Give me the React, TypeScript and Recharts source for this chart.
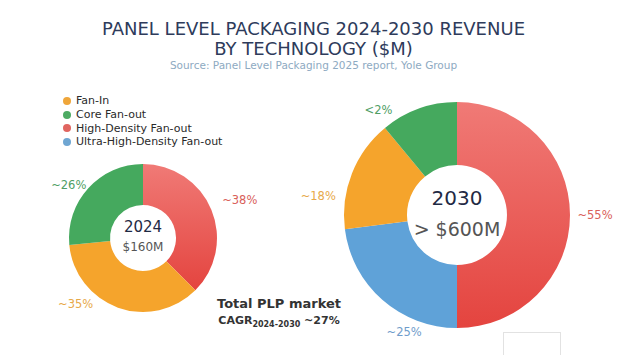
import { PieChart, Pie, Cell } from "recharts";

// categories in the order they are drawn clockwise from 12 o'clock
const categories = ["Fan-In", "Core Fan-out", "High-Density Fan-out", "Ultra-High-Density Fan-out"];
const colors: Record<string, string> = {
  "Fan-In": "#f5a42c",
  "Core Fan-out": "#45a95e",
  "High-Density Fan-out": "url(#redGrad)",
  "Ultra-High-Density Fan-out": "#5fa2d8",
};
const legendDots = ["#efa63a", "#4dab63", "#e06560", "#6fa6d2"];
const labelColors: Record<string, string> = {
  "Fan-In": "#e7a94a",
  "Core Fan-out": "#4f9e65",
  "High-Density Fan-out": "#d9605a",
  "Ultra-High-Density Fan-out": "#6f9ccb",
};

const slices2024 = ["High-Density Fan-out", "Fan-In", "Core Fan-out"];
const values2024 = [37.5, 36, 26.5];
const labels2024 = ["~38%", "~35%", "~26%"];
const labelShift2024 = [1, 26, -7];
const labelGap2024 = [30, 20, 17];

const slices2030 = ["High-Density Fan-out", "Ultra-High-Density Fan-out", "Fan-In", "Core Fan-out"];
const values2030 = [50, 23, 16, 11];
const labels2030 = ["~55%", "~25%", "~18%", "<2%"];
const labelShift2030 = [0, -17, -14, -17];
const labelGap2030 = [25, 15, 27, 18];

const L = { cx: 143, cy: 238, inner: 33, outer: 74 };
const R = { cx: 457, cy: 215, inner: 50, outer: 113 };

const FONT = "'DejaVu Sans', sans-serif";

const data2024 = slices2024.map((name, i) => ({ name, value: values2024[i] }));
const data2030 = slices2030.map((name, i) => ({ name, value: values2030[i] }));

function makeLabel(texts: string[], names: string[], shift: number[], gap: number[], size: number) {
  return (p: any) => {
    const i = p.index;
    const theta = ((90 - p.midAngle + shift[i]) * Math.PI) / 180;
    const r = p.outerRadius + gap[i];
    const x = p.cx + r * Math.sin(theta);
    const y = p.cy - r * Math.cos(theta);
    return (
      <text
        x={x}
        y={y}
        textAnchor="middle"
        dominantBaseline="central"
        fontSize={size}
        fontFamily={FONT}
        fill={labelColors[names[i]]}
      >
        {texts[i]}
      </text>
    );
  };
}

export default function App() {
  return (
    <div
      style={{
        position: "absolute",
        left: 0,
        top: 0,
        width: 627,
        height: 355,
        background: "#fff",
        fontFamily: FONT,
        overflow: "hidden",
      }}
    >
      <div style={{ position: "absolute", top: 19, width: 627, textAlign: "center", color: "#2e3b5b", fontSize: 18, lineHeight: "20px" }}>
        PANEL LEVEL PACKAGING 2024-2030 REVENUE
        <br />
        BY TECHNOLOGY ($M)
      </div>
      <div style={{ position: "absolute", top: 59, width: 627, textAlign: "center", color: "#8eaac2", fontSize: 10.5 }}>
        Source: Panel Level Packaging 2025 report, Yole Group
      </div>

      <PieChart
        width={627}
        height={355}
        margin={{ top: 0, right: 0, bottom: 0, left: 0 }}
        style={{ position: "absolute", left: 0, top: 0 }}
      >
        <defs>
          <linearGradient id="redGrad" x1="0" y1="0" x2="0" y2="1">
            <stop offset="0%" stopColor="#f07a76" />
            <stop offset="100%" stopColor="#e4443f" />
          </linearGradient>
        </defs>
        <Pie
          data={data2024}
          dataKey="value"
          cx={L.cx}
          cy={L.cy}
          innerRadius={L.inner}
          outerRadius={L.outer}
          startAngle={90}
          endAngle={-270}
          stroke="none"
          labelLine={false}
          label={makeLabel(labels2024, slices2024, labelShift2024, labelGap2024, 11.5)}
          isAnimationActive={false}
        >
          {data2024.map((d) => (
            <Cell key={d.name} fill={colors[d.name]} />
          ))}
        </Pie>
        <Pie
          data={data2030}
          dataKey="value"
          cx={R.cx}
          cy={R.cy}
          innerRadius={R.inner}
          outerRadius={R.outer}
          startAngle={90}
          endAngle={-270}
          stroke="none"
          labelLine={false}
          label={makeLabel(labels2030, slices2030, labelShift2030, labelGap2030, 11.5)}
          isAnimationActive={false}
        >
          {data2030.map((d) => (
            <Cell key={d.name} fill={colors[d.name]} />
          ))}
        </Pie>
      </PieChart>

      {/* legend */}
      <div style={{ position: "absolute", left: 63, top: 94 }}>
        {categories.map((c, i) => (
          <div key={c} style={{ display: "flex", alignItems: "center", height: 13.7, fontSize: 11, color: "#2a2a2a" }}>
            <span style={{ width: 8, height: 8, borderRadius: 4, background: legendDots[i], marginRight: 5, display: "inline-block" }} />
            {c}
          </div>
        ))}
      </div>

      {/* centre labels */}
      <div style={{ position: "absolute", left: L.cx - 40, top: L.cy - 21, width: 80, textAlign: "center" }}>
        <div style={{ fontSize: 15, color: "#1f2a44", lineHeight: "20px" }}>2024</div>
        <div style={{ fontSize: 12, color: "#555", lineHeight: "20px" }}>$160M</div>
      </div>
      <div style={{ position: "absolute", left: R.cx - 60, top: R.cy - 32, width: 120, textAlign: "center" }}>
        <div style={{ fontSize: 20, color: "#1f2a44", lineHeight: "31px" }}>2030</div>
        <div style={{ fontSize: 19, color: "#555", lineHeight: "31px" }}>&gt; $600M</div>
      </div>

      {/* market note */}
      <div style={{ position: "absolute", left: 179, top: 295, width: 200, textAlign: "center", color: "#333", fontWeight: 700 }}>
        <div style={{ fontSize: 13, lineHeight: "18px" }}>Total PLP market</div>
        <div style={{ fontSize: 11, lineHeight: "16px" }}>
          CAGR<sub style={{ fontSize: 8, fontWeight: 600 }}>2024-2030</sub> ~27%
        </div>
      </div>

      <div style={{ position: "absolute", left: 503, top: 332, width: 56, height: 30, border: "1px solid #e2e2e2" }} />
    </div>
  );
}
